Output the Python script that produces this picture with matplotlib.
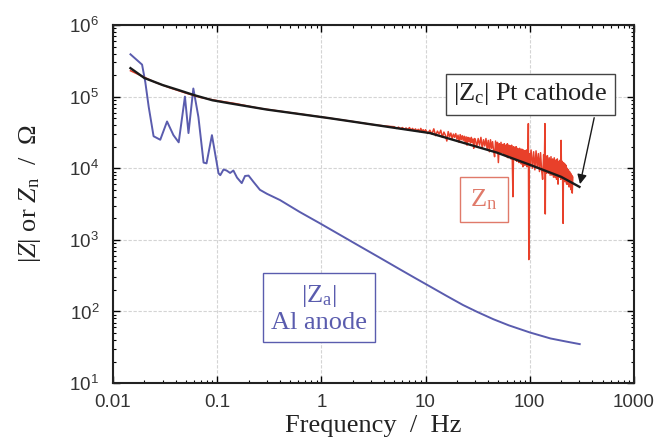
import matplotlib
matplotlib.use("Agg")
import matplotlib.pyplot as plt

# ---------------- data ----------------
ZA_FREQ = [0.0147, 0.019, 0.0204, 0.022, 0.0245, 0.0284, 0.033, 0.038, 0.0427,
           0.049, 0.053, 0.059, 0.066, 0.074, 0.079, 0.089, 0.103, 0.107, 0.115,
           0.123, 0.133, 0.143, 0.155, 0.172, 0.185, 0.2, 0.222, 0.257, 0.3,
           0.4, 0.62, 0.97, 1.5, 2.35, 3.6, 5.7, 8, 11, 15.8, 22.9, 31.6, 44.7,
           63, 100, 158, 224, 302]
ZA_VAL = [3.9e5, 2.8e5, 1.6e5, 7.2e4, 2.8e4, 2.5e4, 4.5e4, 2.9e4, 2.3e4,
          1.0e5, 3.1e4, 1.3e5, 5.2e4, 1.2e4, 1.17e4, 2.9e4, 8.5e3, 8.0e3, 9.6e3,
          9.3e3, 8.6e3, 9.3e3, 7.4e3, 6.2e3, 7.8e3, 7.9e3, 6.5e3, 5.0e3, 4.4e3,
          3.6e3, 2.45e3, 1.7e3, 1.18e3, 8.1e2, 5.68e2, 3.86e2, 2.91e2, 2.24e2,
          1.66e2, 1.23e2, 9.8e1, 7.8e1, 6.4e1, 5.1e1, 4.2e1, 3.8e1, 3.5e1]

ZC_FREQ = [0.0147, 0.02, 0.03, 0.043, 0.06, 0.09, 0.13, 0.3, 1.2, 11, 48, 100,
           200, 300]
ZC_VAL = [2.5e5, 1.82e5, 1.45e5, 1.23e5, 1.05e5, 8.9e4, 8.1e4, 6.6e4, 5.0e4,
          3.1e4, 1.66e4, 1.12e4, 7.6e3, 5.5e3]

ZN_FREQ = [0.0147, 0.018, 0.025, 0.035, 0.05, 0.07, 0.1, 0.15, 0.25, 0.5, 1, 2,
           3, 4,
           5, 5.25, 5.5, 5.75, 6, 6.25, 6.5, 6.75, 7, 7.25, 7.5, 7.75, 8, 8.25,
           8.5, 8.75, 9, 9.25, 9.5, 9.75,
           10, 10.5, 11, 11.5, 12, 12.5, 13, 13.5, 14, 14.5, 15, 15.5, 16, 16.5,
           17, 17.5, 18, 18.5, 19, 19.5, 20, 20.5, 21, 21.5, 22, 22.5, 23, 23.5,
           24, 24.5, 25, 25.5, 26, 26.5, 27, 27.5, 28, 28.5, 29, 29.5,
           30, 31, 32, 33, 34, 35, 36, 37, 38, 39, 40, 41, 42, 43, 44, 45, 46,
           47, 48, 49, 50, 51, 52, 53, 54, 55, 56, 57, 58, 59, 60, 61, 62, 63,
           64, 65, 66, 67, 68, 69, 70, 71, 72, 73, 74, 75, 76, 77, 78, 79, 80,
           81, 82, 83, 84, 85, 86, 87, 88, 89, 90, 91, 92, 93, 94, 95, 96, 97,
           98, 99,
           100, 103, 106, 109, 112, 115, 118, 121, 124, 127, 130, 133, 136, 138,
           140, 141, 142, 145, 148, 151, 154, 157, 160, 163, 166, 169, 172, 175,
           178, 181, 184, 187, 190, 193, 196, 199, 200, 202, 205, 207, 209, 211,
           214, 217, 220, 223, 226, 229, 232, 235, 238, 241, 244, 247, 250, 253,
           256, 259]
ZN_VAL = [2.3e5, 2.0e5, 1.6e5, 1.33e5, 1.12e5, 9.7e4, 8.8e4, 8.0e4, 6.9e4,
          6.0e4, 5.2e4, 4.5e4, 4.1e4, 3.9e4,
          3.8e4, 3.6e4, 3.75e4, 3.55e4, 3.7e4, 3.5e4, 3.65e4, 3.45e4, 3.7e4,
          3.4e4, 3.6e4, 3.35e4, 3.55e4, 3.3e4, 3.5e4, 3.25e4, 3.6e4, 3.3e4,
          3.45e4, 3.2e4,
          3.45e4, 3.05e4, 3.4e4, 3.0e4, 3.55e4, 2.85e4, 3.3e4, 3.0e4, 3.4e4,
          2.7e4, 3.2e4, 2.9e4, 2.4e4, 3.25e4, 2.75e4, 3.1e4, 2.6e4, 3.0e4,
          2.7e4, 3.05e4, 2.55e4, 2.9e4, 2.3e4, 2.95e4, 2.5e4, 2.85e4, 2.45e4,
          2.8e4, 2.3e4, 2.75e4, 2.1e4, 2.7e4, 2.35e4, 2.65e4, 2.25e4, 2.7e4,
          2.3e4, 2.55e4, 1.9e4, 2.6e4,
          2.55e4, 2.0e4, 2.6e4, 2.1e4, 2.7e4, 1.9e4, 2.5e4, 2.05e4, 2.6e4,
          1.85e4, 2.45e4, 1.7e4, 2.5e4, 1.9e4, 2.35e4, 1.75e4, 1.45e4, 2.4e4,
          1.7e4, 2.3e4, 1.2e4, 2.2e4, 1.6e4, 2.3e4, 1.65e4, 2.15e4, 1.55e4,
          2.2e4, 1.5e4, 2.1e4, 1.45e4, 2.2e4, 1.4e4, 2.1e4, 1.5e4, 2.05e4,
          1.35e4, 2.1e4, 1.4e4, 4.0e3, 2.0e4, 1.35e4, 1.95e4, 1.3e4, 2.0e4,
          1.25e4, 1.9e4, 1.3e4, 1.85e4, 1.2e4, 1.9e4, 1.25e4, 1.8e4, 1.15e4,
          1.85e4, 1.2e4, 1.05e4, 1.8e4, 1.15e4, 1.75e4, 1.1e4, 1.75e4, 1.15e4,
          1.8e4, 1.05e4, 1.7e4, 1.1e4, 4.2e4, 5.3e2, 1.6e4,
          1.05e4, 1.8e4, 1.0e4, 1.7e4, 9.5e3, 1.75e4, 1.0e4, 1.6e4, 9.0e3,
          1.65e4, 9.5e3, 7.0e3, 1.55e4, 9.0e3, 4.2e4, 2.3e3, 1.5e4, 8.5e3,
          1.5e4, 8.5e3, 1.4e4, 8.0e3, 1.45e4, 8.0e3, 1.35e4, 7.5e3, 1.4e4,
          7.5e3, 1.3e4, 7.0e3, 1.35e4, 6.0e3, 1.25e4, 7.5e3, 1.3e4, 7.0e3,
          2.45e4, 7.5e3, 1.25e4, 7.0e3, 1.7e3, 1.2e4, 6.5e3, 1.15e4, 6.5e3,
          1.1e4, 6.0e3, 1.0e4, 6.0e3, 9.5e3, 5.5e3, 9.0e3, 5.5e3, 8.5e3,
          5.0e3, 8.0e3, 4.5e3, 7.5e3]

X_TICKS = [0.01, 0.1, 1, 10, 100, 1000]
X_TICK_LABELS = ["0.01", "0.1", "1", "10", "100", "1000"]
Y_EXPONENTS = [1, 2, 3, 4, 5, 6]

# ---------------- style ----------------
plt.rcParams["mathtext.fontset"] = "custom"
plt.rcParams["mathtext.rm"] = "Liberation Serif"
plt.rcParams["mathtext.it"] = "Liberation Serif:italic"
plt.rcParams["mathtext.sf"] = "Liberation Sans"
plt.rcParams["font.family"] = ["Liberation Serif", "DejaVu Serif"]

BLUE = "#5a5cae"
RED = "#e8402a"
RED_BOX = "#e07a6a"
BLACK = "#1a1a1a"

fig = plt.figure(figsize=(6.61, 4.47), dpi=100)
ax = fig.add_axes([0.171, 0.143, 0.788, 0.801])
ax.set_xscale("log")
ax.set_yscale("log")
ax.set_xlim(0.01, 1000)
ax.set_ylim(10, 1e6)

ax.grid(True, which="major", color="#d4d4d4", lw=0.8, ls=(0, (3, 1.5)))
ax.set_axisbelow(True)

ax.plot(ZA_FREQ, ZA_VAL, color=BLUE, lw=1.4, zorder=3)
ax.plot(ZN_FREQ, ZN_VAL, color=RED, lw=1.1, zorder=4)
ax.plot(ZC_FREQ, ZC_VAL, color=BLACK, lw=1.7, zorder=5)

ax.set_xticks(X_TICKS)
ax.set_xticklabels(X_TICK_LABELS, family="Liberation Sans", fontsize=13.5,
                   color="#333333")
ax.set_yticks([10.0 ** e for e in Y_EXPONENTS])
ax.set_yticklabels([r"$\mathsf{10^{%d}}$" % e for e in Y_EXPONENTS],
                   fontsize=13.5, color="#333333")
ax.tick_params(which="both", direction="in", top=True, right=True)
ax.tick_params(axis="x", which="major", length=5, width=1, pad=8)
ax.tick_params(axis="y", which="major", length=5, width=1, pad=10)
ax.tick_params(which="minor", length=2.5, width=0.8)
for s in ax.spines.values():
    s.set_linewidth(1.5)
    s.set_color("#222222")

ax.set_xlabel("Frequency  /  Hz", fontsize=19, color="#222222", labelpad=3)
ax.set_ylabel(r"$|Z|$ or $Z_{\rm n}$  /  $\Omega$", fontsize=19,
              color="#222222")
ax.yaxis.set_label_coords(-0.134, 0.53)

# annotations
ax.annotate(r"$|$Z$_{\rm c}|$ Pt cathode", xy=(ZC_FREQ[-1], ZC_VAL[-1]),
            xytext=(0.801, 0.807), textcoords="axes fraction",
            ha="center", va="center", fontsize=19, color="#222222",
            bbox=dict(boxstyle="square,pad=0.28", fc="white", ec="#444444",
                      lw=1.0),
            arrowprops=dict(arrowstyle="-|>", color=BLACK, lw=1.0,
                            mutation_scale=14,
                            relpos=(0.93, 0.0)),
            zorder=6)

ax.text(0.712, 0.513, r"Z$_{\rm n}$", transform=ax.transAxes,
        ha="center", va="center", fontsize=19, color=RED_BOX,
        bbox=dict(boxstyle="square,pad=0.4", fc="white", ec=RED_BOX,
                  lw=1.0), zorder=6)

ax.text(0.395, 0.209, "$|$Z$_{\\rm a}|$\nAl anode", transform=ax.transAxes,
        ha="center", va="center", fontsize=19, color=BLUE,
        linespacing=1.2,
        bbox=dict(boxstyle="square,pad=0.3", fc="white", ec=BLUE, lw=1.0),
        zorder=6)

fig.savefig("out.png", dpi=100)
